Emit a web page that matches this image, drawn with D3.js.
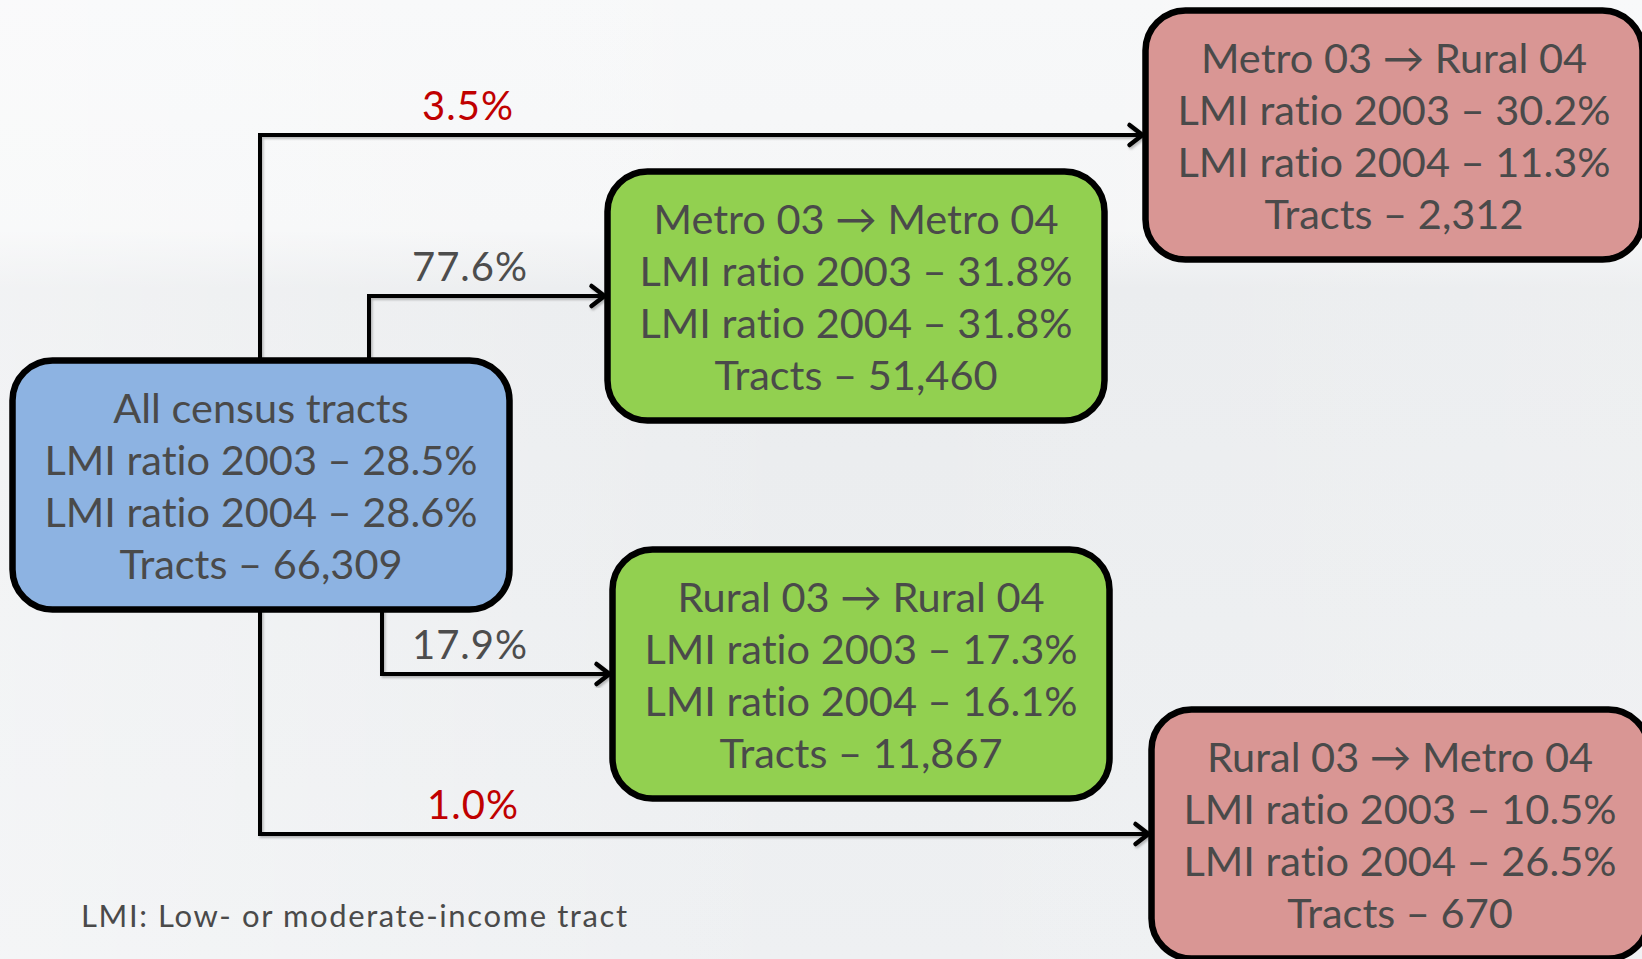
<!DOCTYPE html>
<html>
<head>
<meta charset="utf-8">
<script src="https://cdn.jsdelivr.net/npm/d3@7/dist/d3.min.js"></script>
<style>
html,body{margin:0;padding:0;overflow:hidden;background:#eef0f2;}
svg{display:block;}
text{font-variant-ligatures:none;font-feature-settings:"liga" 0;}
</style>
</head>
<body>
<svg id="chart" width="1642" height="959"></svg>
<script>
// ---- data ----
const nodeIds    = ["all", "mm", "mr", "rr", "rm"];
const nodeTitles = ["All census tracts", "Metro 03 \u2192 Metro 04", "Metro 03 \u2192 Rural 04", "Rural 03 \u2192 Rural 04", "Rural 03 \u2192 Metro 04"];
const lmi2003    = [28.5, 31.8, 30.2, 17.3, 10.5];
const lmi2004    = [28.6, 31.8, 11.3, 16.1, 26.5];
const tracts     = [66309, 51460, 2312, 11867, 670];
const nodeGroup  = ["all", "same", "switch", "same", "switch"];
const flowTargets = ["mr", "mm", "rr", "rm"];
const flowShares  = [3.5, 77.6, 17.9, 1.0];
const footnote = "LMI: Low- or moderate-income tract";

// ---- layout (positions / styles) ----
const W = 1642, H = 959;
const boxW = 497, boxH = 249;
const layout = {
  all: {cx: 261,  cy: 485},
  mm:  {cx: 856,  cy: 296},
  mr:  {cx: 1394, cy: 135},
  rr:  {cx: 861,  cy: 674},
  rm:  {cx: 1400, cy: 834}
};
const flowLayout = {
  mr: {side: "top",    trunkX: 260, labelX: 468},
  mm: {side: "top",    trunkX: 369, labelX: 470},
  rr: {side: "bottom", trunkX: 382, labelX: 470},
  rm: {side: "bottom", trunkX: 260, labelX: 473}
};
const fills = d3.scaleOrdinal().domain(["all","same","switch"]).range(["#8db3e2","#92d050","#d99694"]);
const labelColor = d3.scaleOrdinal().domain(["same","switch"]).range(["#4d4d4d","#c00000"]);
const FONT = "Lato, 'Open Sans', sans-serif";
const fontSize = 41.5, lineGap = 52;

const fmtPct = d3.format(".1f");
const fmtInt = d3.format(",");

const svg = d3.select("#chart");
const defs = svg.append("defs");
const bg = defs.append("linearGradient").attr("id","bg").attr("x1",0).attr("y1",0).attr("x2",0).attr("y2",1);
bg.append("stop").attr("offset","0").attr("stop-color","#f7f8f9");
bg.append("stop").attr("offset","0.24").attr("stop-color","#f5f6f7");
bg.append("stop").attr("offset","0.3").attr("stop-color","#eaecee");
bg.append("stop").attr("offset","1").attr("stop-color","#eef0f2");
const bg2 = defs.append("linearGradient").attr("id","bg2").attr("x1",0).attr("y1",0).attr("x2",1).attr("y2",0);
bg2.append("stop").attr("offset","0").attr("stop-color","#ffffff").attr("stop-opacity",0.35);
bg2.append("stop").attr("offset","0.5").attr("stop-color","#ffffff").attr("stop-opacity",0);
bg2.append("stop").attr("offset","1").attr("stop-color","#ffffff").attr("stop-opacity",0.15);
svg.append("rect").attr("width",W).attr("height",H).attr("fill","url(#bg)");
svg.append("rect").attr("width",W).attr("height",H).attr("fill","url(#bg2)");

const shadow = defs.append("filter").attr("id","shadow").attr("x","-5%").attr("y","-5%").attr("width","110%").attr("height","110%");
shadow.append("feDropShadow").attr("dx",1.5).attr("dy",2).attr("stdDeviation",1.2).attr("flood-color","#000").attr("flood-opacity",0.25);

const nodes = nodeIds.map((id,i)=>({id, title: nodeTitles[i], l3: lmi2003[i], l4: lmi2004[i], t: tracts[i], g: nodeGroup[i]}));
const byId = Object.fromEntries(nodes.map(n=>[n.id,n]));
const flows = flowTargets.map((t,i)=>({target:t, share: flowShares[i], g: byId[t].g}));

const src = layout.all;
const yPos = d3.scaleIdentity();

// ---- flows ----
const gFlows = svg.append("g");
flows.forEach(f=>{
  const fl = flowLayout[f.target], tl = layout[f.target];
  const y0 = fl.side === "top" ? src.cy - boxH/2 : src.cy + boxH/2;
  const yT = yPos(tl.cy);
  const xEnd = tl.cx - boxW/2;
  const g = gFlows.append("g").attr("filter","url(#shadow)");
  const p = d3.path();
  p.moveTo(fl.trunkX, y0);
  p.lineTo(fl.trunkX, yT);
  p.lineTo(xEnd - 1, yT);
  g.append("path").attr("d", p.toString())
    .attr("fill","none").attr("stroke","#000").attr("stroke-width",4).attr("stroke-linejoin","miter");
  const a = d3.path();
  a.moveTo(xEnd - 16, yT - 10);
  a.lineTo(xEnd - 3, yT);
  a.lineTo(xEnd - 16, yT + 10);
  g.append("path").attr("d", a.toString())
    .attr("fill","none").attr("stroke","#000").attr("stroke-width",4.5).attr("stroke-linecap","round").attr("stroke-linejoin","miter");
  gFlows.append("text")
    .attr("x", fl.labelX).attr("y", yT - 15)
    .attr("text-anchor","middle")
    .attr("font-family", FONT).attr("font-size", 40)
    .attr("letter-spacing", 1)
    .attr("fill", labelColor(f.g))
    .text(fmtPct(f.share) + "%");
});

// ---- boxes ----
const gBoxes = svg.append("g");
const bx = gBoxes.selectAll("g.node").data(nodes).join("g").attr("class","node")
  .attr("transform", d=>`translate(${layout[d.id].cx},${layout[d.id].cy})`);
bx.append("rect")
  .attr("x",-boxW/2).attr("y",-boxH/2).attr("width",boxW).attr("height",boxH)
  .attr("rx",40).attr("ry",40)
  .attr("fill", d=>fills(d.g)).attr("stroke","#000").attr("stroke-width",6.5);
bx.each(function(d){
  const lines = [d.title, "LMI ratio 2003 \u2013 " + fmtPct(d.l3) + "%", "LMI ratio 2004 \u2013 " + fmtPct(d.l4) + "%", "Tracts \u2013 " + fmtInt(d.t)];
  const t = d3.select(this).append("text")
    .attr("text-anchor","middle").attr("font-family", FONT).attr("font-size", fontSize)
    .attr("fill","#4a4a4a");
  lines.forEach((s,i)=>{
    t.append("tspan").attr("x",0).attr("y", (i-1.5)*lineGap + 16).text(s);
  });
});

// ---- footnote ----
svg.append("text").attr("x",81).attr("y",927)
  .attr("font-family", FONT).attr("font-size", 31).attr("letter-spacing", 1.6).attr("fill","#4a4a4a")
  .text(footnote);
</script>
</body>
</html>
